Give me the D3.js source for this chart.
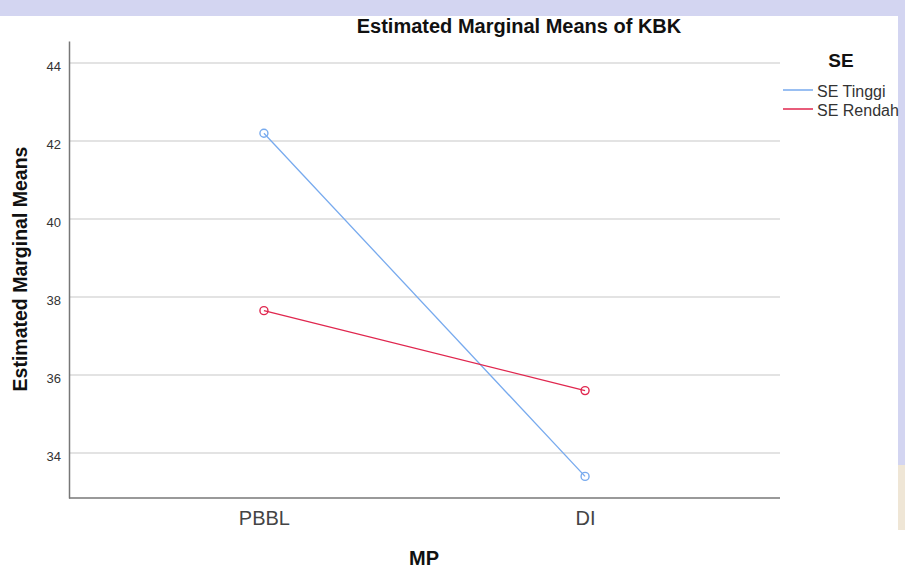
<!DOCTYPE html>
<html><head><meta charset="utf-8">
<script src="https://cdn.jsdelivr.net/npm/d3@7"></script>
<style>body{margin:0;background:#fff}svg{display:block}text{font-family:"Liberation Sans",Arial,sans-serif}</style>
</head><body>
<svg id="c" width="905" height="570"></svg>
<script>
const categories = ["PBBL", "DI"];
const seriesNames = ["SE Tinggi", "SE Rendah"];
const seTinggi = [42.2, 33.4];
const seRendah = [37.65, 35.6];
const yTicks = [34, 36, 38, 40, 42, 44];
const colors = ["#77aaee", "#e0264e"];

const svg = d3.select("#c");
// background watermark strips
svg.append("rect").attr("x",0).attr("y",0).attr("width",905).attr("height",16).attr("fill","#d3d5f1");
svg.append("rect").attr("x",898).attr("y",0).attr("width",7).attr("height",465).attr("fill","#d3d5f1");
svg.append("rect").attr("x",898).attr("y",465).attr("width",7).attr("height",65).attr("fill","#efe6d6");

const L = 69, R = 780, T = 41, B = 498;
const x = d3.scalePoint().domain(categories).range([L, R]).padding(0.607);
const y = d3.scaleLinear().domain([44 - (B - 63) / 39, 44 + (63 - T) / 39]).range([B, T]);

// gridlines
svg.append("g").selectAll("line").data(yTicks).join("line")
  .attr("x1", L).attr("x2", R).attr("y1", d => y(d)).attr("y2", d => y(d))
  .attr("stroke", "#c8c8c8").attr("stroke-width", 1.2);

// axes
const yAxis = svg.append("g").attr("transform", `translate(${L},0)`)
  .call(d3.axisLeft(y).tickValues(yTicks).tickSize(0).tickPadding(8));
yAxis.select(".domain").attr("stroke", "#777").attr("stroke-width", 1.5);
yAxis.selectAll("text").attr("font-size", 13).attr("fill", "#333").attr("dy", "0.55em");

const xAxis = svg.append("g").attr("transform", `translate(0,${B})`)
  .call(d3.axisBottom(x).tickSize(0).tickPadding(13));
xAxis.select(".domain").attr("stroke", "#777").attr("stroke-width", 1.5).attr("d", `M${L},0H${R}`);
xAxis.selectAll("text").attr("font-size", 20).attr("fill", "#444");

// series
const data = [seTinggi, seRendah];
const line = d3.line().x((d, i) => x(categories[i])).y(d => y(d));
data.forEach((vals, k) => {
  svg.append("path").datum(vals).attr("d", line).attr("fill", "none")
    .attr("stroke", colors[k]).attr("stroke-width", 1.3);
  svg.append("g").selectAll("circle").data(vals).join("circle")
    .attr("cx", (d, i) => x(categories[i])).attr("cy", d => y(d)).attr("r", 4)
    .attr("fill", "none").attr("stroke", colors[k]).attr("stroke-width", 1.4);
});

// titles
svg.append("text").attr("x", 519).attr("y", 33).attr("text-anchor", "middle")
  .attr("font-size", 20).attr("font-weight", "bold").attr("fill", "#111").text("Estimated Marginal Means of KBK");
svg.append("text").attr("transform", "translate(27,269) rotate(-90)").attr("text-anchor", "middle")
  .attr("font-size", 19.5).attr("font-weight", "bold").attr("fill", "#111").text("Estimated Marginal Means");
svg.append("text").attr("x", 424).attr("y", 565).attr("text-anchor", "middle")
  .attr("font-size", 20).attr("font-weight", "bold").attr("fill", "#111").text("MP");

// legend
svg.append("text").attr("x", 841).attr("y", 67).attr("text-anchor", "middle")
  .attr("font-size", 19).attr("font-weight", "bold").attr("fill", "#111").text("SE");
seriesNames.forEach((n, k) => {
  const yy = 90 + k * 19;
  svg.append("line").attr("x1", 783).attr("x2", 813).attr("y1", yy).attr("y2", yy)
    .attr("stroke", colors[k]).attr("stroke-width", 1.5);
  svg.append("text").attr("x", 817).attr("y", yy + 7).attr("font-size", 16).attr("fill", "#333").text(n);
});
</script>
</body></html>
